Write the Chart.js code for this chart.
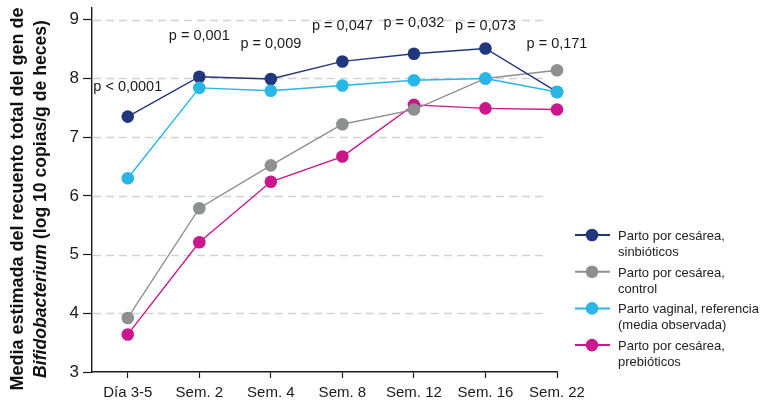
<!DOCTYPE html>
<html>
<head>
<meta charset="utf-8">
<script src="https://cdn.jsdelivr.net/npm/chart.js@4.4.1/dist/chart.umd.min.js"></script>
<style>
  html, body { margin: 0; padding: 0; background: #ffffff; }
  #wrap { width: 760px; height: 401px; position: relative; }
</style>
</head>
<body>
<div id="wrap"><canvas id="chart"></canvas></div>
<script>
// Time points of the study
const categories = ['Día 3-5', 'Sem. 2', 'Sem. 4', 'Sem. 8', 'Sem. 12', 'Sem. 16', 'Sem. 22'];

// Estimated mean Bifidobacterium counts (log10 copies / g faeces)
const cesareaSinbioticos = [7.35, 8.03, 7.99, 8.29, 8.42, 8.51, 7.77];
const cesareaControl     = [3.92, 5.79, 6.52, 7.22, 7.47, 8.00, 8.14];
const vaginalReferencia  = [6.30, 7.84, 7.79, 7.88, 7.97, 8.00, 7.77];
const cesareaPrebioticos = [3.64, 5.21, 6.24, 6.67, 7.55, 7.49, 7.47];

// Y-axis tick values
const yTicks = [3, 4, 5, 6, 7, 8, 9];

// p-values per time point and the axis value where each is written
const pLabels  = ['p < 0,0001', 'p = 0,001', 'p = 0,009', 'p = 0,047', 'p = 0,032', 'p = 0,073', 'p = 0,171'];
const pLabelAt = [7.86, 8.72, 8.58, 8.89, 8.95, 8.90, 8.59];

const legendLabels = [
  ['Parto por cesárea,', 'sinbióticos'],
  ['Parto por cesárea,', 'control'],
  ['Parto vaginal, referencia', '(media observada)'],
  ['Parto por cesárea,', 'prebióticos']
];

const COLORS = {
  navy: '#22367b',
  gray: '#8e8f91',
  blue: '#28b6e7',
  magenta: '#cb178c'
};

const FONT = '"Liberation Sans", Arial, Helvetica, sans-serif';

function series(values) {
  return values.map((v, i) => ({ x: i, y: v }));
}

function ds(label, values, color, order) {
  return {
    label: label,
    data: series(values),
    borderColor: color,
    backgroundColor: color,
    pointBackgroundColor: color,
    pointBorderColor: color,
    pointRadius: 6.3,
    pointBorderWidth: 0,
    pointHoverRadius: 6.3,
    borderWidth: 1.4,
    tension: 0,
    clip: false,
    order: order
  };
}

const datasets = [
  ds(legendLabels[0].join(' '), cesareaSinbioticos, COLORS.navy, 1),
  ds(legendLabels[1].join(' '), cesareaControl, COLORS.gray, 2),
  ds(legendLabels[2].join(' '), vaginalReferencia, COLORS.blue, 0),
  ds(legendLabels[3].join(' '), cesareaPrebioticos, COLORS.magenta, 3)
];

// Dashed horizontal guides, p-value annotations, legend and axis title
const extras = {
  id: 'extras',
  beforeDatasetsDraw(chart) {
    const ctx = chart.ctx;
    const ys = chart.scales.y;
    const area = chart.chartArea;
    ctx.save();
    ctx.strokeStyle = '#d2d2d2';
    ctx.lineWidth = 1.3;
    ctx.setLineDash([8, 5]);
    yTicks.filter(v => v > ys.min).forEach(v => {
      const y = Math.round(ys.getPixelForValue(v)) + 0.5;
      ctx.beginPath();
      ctx.moveTo(area.left + 1, y);
      ctx.lineTo(area.right - 9, y);
      ctx.stroke();
    });
    ctx.restore();
  },
  afterDatasetsDraw(chart) {
    const ctx = chart.ctx;
    const xs = chart.scales.x, ys = chart.scales.y;
    ctx.save();
    ctx.fillStyle = '#1a1a1a';
    ctx.font = '14.5px ' + FONT;
    ctx.textAlign = 'center';
    ctx.textBaseline = 'middle';
    pLabels.forEach((t, i) => {
      ctx.fillText(t, xs.getPixelForValue(i), ys.getPixelForValue(pLabelAt[i]));
    });
    ctx.restore();
  },
  afterDraw(chart) {
    const ctx = chart.ctx;

    // Legend
    ctx.save();
    const lx0 = 575, lx1 = 610, cx = 592, tx = 618, y0 = 235, step = 36.7;
    chart.data.datasets.forEach((d, i) => {
      const y = y0 + i * step;
      ctx.strokeStyle = d.borderColor;
      ctx.lineWidth = 2;
      ctx.beginPath();
      ctx.moveTo(lx0, y);
      ctx.lineTo(lx1, y);
      ctx.stroke();
      ctx.fillStyle = d.borderColor;
      ctx.beginPath();
      ctx.arc(cx, y, 6.3, 0, Math.PI * 2);
      ctx.fill();
      ctx.fillStyle = '#222222';
      ctx.font = '13px ' + FONT;
      ctx.textAlign = 'left';
      ctx.textBaseline = 'middle';
      ctx.fillText(legendLabels[i][0], tx, y + 1.5);
      ctx.fillText(legendLabels[i][1], tx, y + 17.5);
    });
    ctx.restore();

    // Y-axis title (two lines, with italic genus name)
    ctx.save();
    const midY = 199;
    ctx.translate(18, midY);
    ctx.rotate(-Math.PI / 2);
    ctx.fillStyle = '#111111';
    ctx.textBaseline = 'middle';
    const bold = 'bold 18px ' + FONT;
    const boldItalic = 'italic bold 17.6px ' + FONT;
    const bold2 = 'bold 17.6px ' + FONT;
    ctx.font = bold;
    ctx.textAlign = 'center';
    ctx.fillText('Media estimada del recuento total del gen de', 0, 0);
    const partA = 'Bifidobacterium';
    const partB = ' (log 10 copias/g de heces)';
    ctx.font = boldItalic;
    const wA = ctx.measureText(partA).width;
    ctx.font = bold2;
    const wB = ctx.measureText(partB).width;
    const start = -(wA + wB) / 2;
    ctx.textAlign = 'left';
    ctx.font = boldItalic;
    ctx.fillText(partA, start, 23);
    ctx.font = bold2;
    ctx.fillText(partB, start + wA, 23);
    ctx.restore();
  }
};

new Chart(document.getElementById('chart'), {
  type: 'line',
  data: { datasets: datasets },
  options: {
    responsive: true,
    maintainAspectRatio: false,
    animation: false,
    layout: { padding: { left: 0, right: 203, top: 8, bottom: 0 } },
    plugins: {
      legend: { display: false },
      tooltip: { enabled: false }
    },
    scales: {
      x: {
        type: 'linear',
        min: -0.5,
        max: 6,
        afterBuildTicks(scale) {
          scale.ticks = categories.map((c, i) => ({ value: i }));
        },
        afterFit(scale) {
          scale.height = 29;
          scale.paddingLeft = 0;
          scale.paddingRight = 0;
        },
        ticks: {
          autoSkip: false,
          maxRotation: 0,
          padding: 6,
          color: '#1a1a1a',
          font: { family: FONT, size: 15 },
          callback: (v) => categories[v]
        },
        grid: {
          drawOnChartArea: false,
          drawTicks: true,
          tickLength: 6,
          tickColor: '#1a1a1a',
          tickWidth: 1.2
        },
        border: { display: true, color: '#1a1a1a', width: 1.4 }
      },
      y: {
        type: 'linear',
        min: 3,
        max: 9.2,
        afterBuildTicks(scale) {
          scale.ticks = yTicks.map(v => ({ value: v }));
        },
        afterFit(scale) {
          scale.width = 92;
          scale.paddingTop = 0;
          scale.paddingBottom = 0;
        },
        ticks: {
          padding: 4,
          color: '#1a1a1a',
          font: { family: FONT, size: 17 },
          callback: (v) => String(v)
        },
        grid: {
          drawOnChartArea: false,
          drawTicks: true,
          tickLength: 9,
          tickColor: '#1a1a1a',
          tickWidth: 1.2
        },
        border: { display: true, color: '#1a1a1a', width: 1.4 }
      }
    }
  },
  plugins: [extras]
});
</script>
</body>
</html>
